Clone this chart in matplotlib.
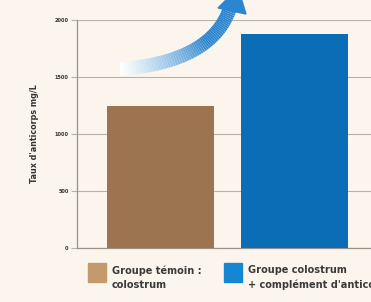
import numpy as np
import matplotlib.pyplot as plt
from matplotlib.collections import LineCollection
from matplotlib.patches import Polygon
from matplotlib.colors import to_rgb

groups = ["Groupe témoin :\ncolostrum", "Groupe colostrum\n+ complément d'anticorps"]
values = [1250, 1880]
bar_colors = ["#9c7550", "#0a6db5"]
legend_colors = ["#c49a6c", "#1587d2"]
yticks = [0, 500, 1000, 1500, 2000]

bg = "#fcf5ee"
font = ["Liberation Sans Narrow", "DejaVu Sans"]

fig = plt.figure(figsize=(3.71, 3.02), dpi=100, facecolor=bg)
ax = fig.add_axes([77 / 371, 54 / 302, 294 / 371, 228 / 302], facecolor=bg)

x = np.arange(len(values))
ax.bar(x, values, width=0.795, color=bar_colors, zorder=3)
ax.set_xlim(-0.62, 1.565)
ax.set_ylim(0, 2000)
ax.set_yticks(yticks)
ax.set_yticklabels([str(v) for v in yticks], fontsize=4, fontweight="bold",
                   family=font, fontstretch="condensed", color="#333333")
ax.set_xticks([])
ax.yaxis.grid(True, color="#b9b1a8", linewidth=0.8, zorder=0)
ax.tick_params(axis="y", length=4, color="#b9b1a8", pad=2)
for s in ["top", "right"]:
    ax.spines[s].set_visible(False)
for s in ["left", "bottom"]:
    ax.spines[s].set_color("#9a928a")
    ax.spines[s].set_linewidth(0.9)
ax.set_ylabel("Taux d'anticorps mg/L", fontsize=6.4, fontweight="bold",
              family=font, fontstretch="condensed", color="#333333", labelpad=11)

# legend below the chart
leg_x = [88 / 371, 224 / 371]
for lx, lab, c in zip(leg_x, groups, legend_colors):
    fig.patches.append(plt.Rectangle((lx, 20 / 302), 18 / 371, 19 / 302,
                                     transform=fig.transFigure, color=c))
    fig.text(lx + 24 / 371, 1 - 265 / 302, lab, fontsize=7.8, fontweight="bold",
             family=font, fontstretch="condensed", color="#3a3a3a", va="top",
             linespacing=1.5)

# curved gradient arrow
p0 = np.array([120, 69.0])
p1 = np.array([212, 62.0])
p2 = np.array([230, 8.0])
t = np.linspace(0, 1, 60)
pts = ((1 - t)[:, None] ** 2 * p0 + 2 * ((1 - t) * t)[:, None] * p1
       + (t ** 2)[:, None] * p2)
pts_fig = np.column_stack([pts[:, 0] / 371, 1 - pts[:, 1] / 302])
segs = [pts_fig[i:i + 2] for i in range(len(pts_fig) - 1)]
c0 = np.array(to_rgb("#ffffff"))
c1 = np.array(to_rgb("#2b86cf"))
cols = [c0 + (c1 - c0) * min(1, v * 1.6) for v in t[:-1]]
lc = LineCollection(segs, colors=cols, linewidths=10, transform=fig.transFigure,
                    capstyle="butt")
fig.add_artist(lc)
tip = np.array([[218, 8], [246, 14], [238, -12]])
fig.add_artist(Polygon(np.column_stack([tip[:, 0] / 371, 1 - tip[:, 1] / 302]),
                       closed=True, color="#2b86cf", transform=fig.transFigure))

fig.savefig("out.png", dpi=100, facecolor=bg)
